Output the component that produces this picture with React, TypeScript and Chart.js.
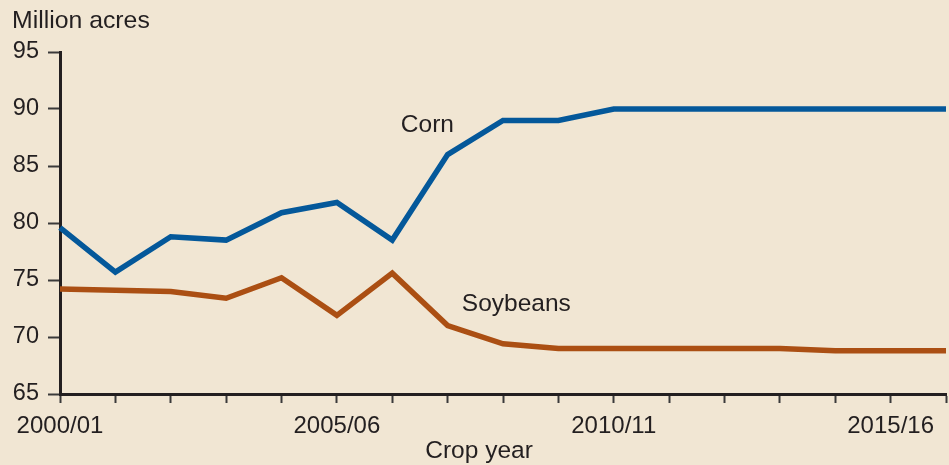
import React, { useEffect, useRef } from "react";
import { Chart, registerables } from "chart.js";

Chart.register(...registerables);

const cropYears = [
  "2000/01", "2001/02", "2002/03", "2003/04", "2004/05", "2005/06", "2006/07", "2007/08",
  "2008/09", "2009/10", "2010/11", "2011/12", "2012/13", "2013/14", "2014/15", "2015/16", "2016/17",
];
const shownTickLabels = ["2000/01", "2005/06", "2010/11", "2015/16"];
const cornAcres = [79.6, 75.7, 78.8, 78.5, 80.9, 81.8, 78.5, 86.0, 89.0, 89.0, 90.0, 90.0, 90.0, 90.0, 90.0, 90.0, 90.0];
const soybeanAcres = [74.2, 74.1, 74.0, 73.4, 75.2, 71.9, 75.6, 71.0, 69.4, 69.0, 69.0, 69.0, 69.0, 69.0, 68.8, 68.8, 68.8];
const seriesLabels = [
  { text: "Corn", x: 6.155, y: 87.96 },
  { text: "Soybeans", x: 7.256, y: 72.31 },
];

const BG = "#F1E6D3";
const INK = "#231F20";
const BLUE = "#04589A";
const ORANGE = "#AB4F13";
const FONT = "'Liberation Sans', Arial, Helvetica, sans-serif";

export default function App() {
  const ref = useRef<HTMLCanvasElement | null>(null);

  useEffect(() => {
    document.body.style.margin = "0";
    const canvas = ref.current;
    if (!canvas) return;

    const textPlugin = {
      id: "texts",
      beforeDraw(chart: any) {
        const ctx = chart.ctx;
        ctx.save();
        ctx.fillStyle = BG;
        ctx.fillRect(0, 0, chart.width, chart.height);
        ctx.restore();
      },
      afterDraw(chart: any) {
        const ctx = chart.ctx;
        const xs = chart.scales.x;
        const ys = chart.scales.y;
        ctx.save();
        ctx.fillStyle = INK;
        ctx.font = `24.8px ${FONT}`;
        ctx.textBaseline = "alphabetic";
        ctx.textAlign = "left";
        ctx.fillText("Million acres", 12, 28);
        ctx.font = `24.5px ${FONT}`;
        ctx.textAlign = "center";
        ctx.fillText("Crop year", 479, 458);
        ctx.textAlign = "left";
        for (const l of seriesLabels) {
          ctx.fillText(l.text, xs.getPixelForValue(l.x), ys.getPixelForValue(l.y));
        }
        ctx.restore();
      },
    };

    const chart = new Chart(canvas, {
      type: "line",
      data: {
        labels: cropYears,
        datasets: [
          {
            label: "Corn",
            data: cornAcres,
            borderColor: BLUE,
            borderWidth: 5.5,
            pointRadius: 0,
            tension: 0,
            fill: false,
          },
          {
            label: "Soybeans",
            data: soybeanAcres,
            borderColor: ORANGE,
            borderWidth: 5.5,
            pointRadius: 0,
            tension: 0,
            fill: false,
          },
        ],
      },
      options: {
        responsive: false,
        animation: false,
        devicePixelRatio: 1,
        layout: { padding: { top: 52, right: 3, bottom: 0, left: 0 } },
        plugins: {
          legend: { display: false },
          tooltip: { enabled: false },
          title: { display: false },
        },
        scales: {
          x: {
            type: "category",
            offset: false,
            border: { display: true, color: INK, width: 3 },
            grid: {
              display: true,
              drawOnChartArea: false,
              drawTicks: true,
              tickLength: 9,
              tickColor: "#3a3a3a",
              tickWidth: 2,
            },
            ticks: {
              autoSkip: false,
              maxRotation: 0,
              padding: 9,
              color: INK,
              font: { family: FONT, size: 24 },
              callback: (_v: any, i: number) =>
                shownTickLabels.includes(cropYears[i]) ? cropYears[i] : "",
            },
            afterFit: (s: any) => {
              s.height = 71;
              s.paddingLeft = 0;
              s.paddingRight = 0;
              s.paddingTop = 0;
              s.paddingBottom = 0;
            },
          },
          y: {
            min: 65,
            max: 95,
            border: { display: true, color: INK, width: 3 },
            grid: {
              display: true,
              drawOnChartArea: false,
              drawTicks: true,
              tickLength: 12,
              tickColor: "#3a3a3a",
              tickWidth: 2,
            },
            ticks: {
              stepSize: 5,
              padding: 9,
              color: INK,
              font: { family: FONT, size: 23.5 },
            },
            afterFit: (s: any) => {
              s.width = 60;
              s.paddingLeft = 0;
              s.paddingRight = 0;
              s.paddingTop = 0;
              s.paddingBottom = 0;
            },
          },
        },
      },
      plugins: [textPlugin],
    });

    return () => chart.destroy();
  }, []);

  return (
    <div style={{ position: "absolute", left: 0, top: 0, width: 949, height: 465, background: BG }}>
      <canvas ref={ref} width={949} height={465} style={{ display: "block", width: 949, height: 465 }} />
    </div>
  );
}
